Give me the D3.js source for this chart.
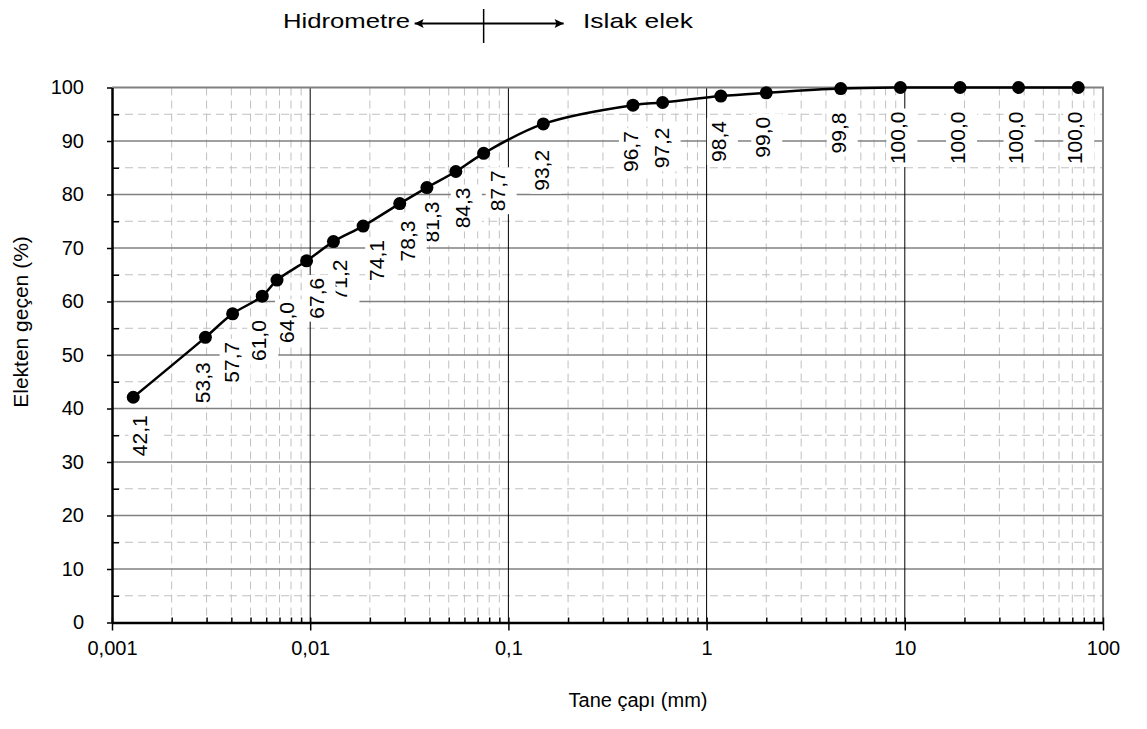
<!DOCTYPE html>
<html>
<head>
<meta charset="utf-8">
<script src="https://cdn.jsdelivr.net/npm/d3@7"></script>
<style>
  body { margin: 0; background: #fff; }
  text { font-family: Arial, "Liberation Sans", sans-serif; fill: #000; }
</style>
</head>
<body>
<svg width="1147" height="729"></svg>
<script>
// tane çapı (mm) ve elekten geçen (%)
const diameters = [0.00128, 0.00296, 0.00406, 0.00573, 0.0068, 0.00959, 0.0131, 0.0185, 0.0283, 0.0388, 0.0543,
                   0.075, 0.15, 0.425, 0.6, 1.18, 2.0, 4.75, 9.5, 19, 37.5, 75];
const passing = [42.1, 53.3, 57.7, 61.0, 64.0, 67.6, 71.2, 74.1, 78.3, 81.3, 84.3,
                 87.7, 93.2, 96.7, 97.2, 98.4, 99.0, 99.8, 100.0, 100.0, 100.0, 100.0];
const xTicks = [0.001, 0.01, 0.1, 1, 10, 100];
const xTickLabels = ["0,001", "0,01", "0,1", "1", "10", "100"];
const yTicks = [0, 10, 20, 30, 40, 50, 60, 70, 80, 90, 100];
const boundary = 0.075; // hidrometre / ıslak elek sınırı

// etiket kaydırmaları (elle yerleştirilmiş etiketler)
const labelNudge = [[14, 18], [5, 25], [6, 28], [4, 24], [17, 22], [17, 17], [14, 18], [21, 14], [15, 17],
                    [12, 14], [14, 16], [21, 17], [6, 26], [5, 26], [6, 25], [5, 25], [4, 24], [5, 24],
                    [5, 24], [5, 24], [4, 24], [4, 24]];

const svg = d3.select("svg");
const pLeft = 112, pRight = 1103, pTop = 87.5, pBottom = 622.5;

const x = d3.scaleLog().domain([0.001, 100]).range([pLeft, pRight]);
const y = d3.scaleLinear().domain([0, 100]).range([pBottom, pTop]);
const fmt = d3.formatLocale({decimal: ",", thousands: ".", grouping: [3], currency: ["", "TL"]}).format(".1f");

// küçük dikey ızgara (2..9 her dekad)
const minorX = [];
xTicks.slice(0, -1).forEach(t => { for (let k = 2; k <= 9; k++) minorX.push(t * k); });
const minorY = d3.range(5, 100, 10);

const grid = svg.append("g");
grid.selectAll("line.mx").data(minorX).join("line")
  .attr("x1", d => x(d)).attr("x2", d => x(d)).attr("y1", pTop).attr("y2", pBottom)
  .attr("stroke", "#c0c0c0").attr("stroke-width", 1).attr("stroke-dasharray", "8,5");
grid.selectAll("line.my").data(minorY).join("line")
  .attr("x1", pLeft).attr("x2", pRight).attr("y1", d => y(d)).attr("y2", d => y(d))
  .attr("stroke", "#c0c0c0").attr("stroke-width", 1).attr("stroke-dasharray", "8,5");
grid.selectAll("line.vy").data(yTicks.slice(1, -1)).join("line")
  .attr("x1", pLeft).attr("x2", pRight).attr("y1", d => y(d)).attr("y2", d => y(d))
  .attr("stroke", "#808080").attr("stroke-width", 1.6);
grid.selectAll("line.vx").data(xTicks.slice(1, -1)).join("line")
  .attr("x1", d => x(d)).attr("x2", d => x(d)).attr("y1", pTop).attr("y2", pBottom)
  .attr("stroke", "#000").attr("stroke-width", 1);

// üst ve sağ çerçeve
svg.append("path")
  .attr("d", `M${pLeft},${pTop}H${pRight}V${pBottom}`)
  .attr("fill", "none").attr("stroke", "#808080").attr("stroke-width", 2);

// eksenler
const yAxis = svg.append("g").attr("transform", `translate(${pLeft},0)`)
  .call(d3.axisLeft(y).tickValues(yTicks).tickSize(5).tickPadding(23).tickSizeOuter(0));
svg.append("g").attr("transform", `translate(${pLeft},0)`)
  .call(d3.axisLeft(y).tickValues(minorY).tickSize(-7).tickFormat("").tickSizeOuter(0))
  .call(g => g.select(".domain").remove());

const xAxis = svg.append("g").attr("transform", `translate(0,${pBottom})`)
  .call(d3.axisBottom(x).tickValues(xTicks).tickSize(8).tickPadding(10).tickSizeOuter(0)
    .tickFormat((d, i) => xTickLabels[i]));
svg.append("g").attr("transform", `translate(0,${pBottom})`)
  .call(d3.axisBottom(x).tickValues(minorX.concat(xTicks)).tickSize(-5).tickFormat("").tickSizeOuter(0))
  .call(g => g.select(".domain").remove());

svg.selectAll(".tick line").attr("stroke", "#000").attr("stroke-width", 1.5);
[yAxis, xAxis].forEach(a => {
  a.select(".domain").attr("stroke", "#000").attr("stroke-width", 2.5);
  a.selectAll("text").attr("font-size", 20).attr("font-family", "Arial, 'Liberation Sans', sans-serif");
});

// eğri
const pts = diameters.map((d, i) => ({d, p: passing[i], nx: labelNudge[i][0], ny: labelNudge[i][1]}));
svg.append("path")
  .datum(pts)
  .attr("fill", "none").attr("stroke", "#000").attr("stroke-width", 2.5)
  .attr("d", d3.line().x(d => x(d.d)).y(d => y(d.p)).curve(d3.curveCatmullRom.alpha(0.5)));

svg.append("g").selectAll("circle").data(pts).join("circle")
  .attr("cx", d => x(d.d)).attr("cy", d => y(d.p)).attr("r", 6.5).attr("fill", "#000");

// veri etiketleri (ters sırada, beyaz zeminli)
const lbl = svg.append("g").selectAll("g").data(pts.slice().reverse()).join("g")
  .attr("transform", d => `translate(${x(d.d) + d.nx},${y(d.p) + d.ny}) rotate(-90)`);
lbl.append("text").attr("text-anchor", "end").attr("font-size", 21).text(d => fmt(d.p));
lbl.each(function() {
  const g = d3.select(this);
  const w = g.select("text").node().getComputedTextLength();
  g.insert("rect", "text").attr("x", -w - 3).attr("y", -19).attr("width", w + 6).attr("height", 31)
    .attr("fill", "#fff");
});

// eksen başlıkları
svg.append("text").attr("x", 638).attr("y", 707).attr("text-anchor", "middle")
  .attr("font-size", 20).text("Tane çapı (mm)");
svg.append("text").attr("transform", "translate(28,322) rotate(-90)").attr("text-anchor", "middle")
  .attr("font-size", 21).text("Elekten geçen (%)");

// üst açıklama: hidrometre <-> ıslak elek
const defs = svg.append("defs");
defs.append("marker").attr("id", "ah").attr("viewBox", "0 0 10 10").attr("refX", 10).attr("refY", 5)
  .attr("markerWidth", 15).attr("markerHeight", 9).attr("markerUnits", "userSpaceOnUse")
  .attr("orient", "auto-start-reverse")
  .append("path").attr("d", "M0,0L10,5L0,10L2,5Z").attr("fill", "#000");
const bx = x(boundary);
svg.append("line").attr("x1", bx - 69).attr("x2", bx + 80).attr("y1", 23.5).attr("y2", 23.5)
  .attr("stroke", "#000").attr("stroke-width", 2)
  .attr("marker-start", "url(#ah)").attr("marker-end", "url(#ah)");
svg.append("line").attr("x1", bx).attr("x2", bx).attr("y1", 9).attr("y2", 43)
  .attr("stroke", "#000").attr("stroke-width", 1.5);
svg.append("text").attr("x", 283).attr("y", 28).attr("font-size", 21)
  .attr("textLength", 127).attr("lengthAdjust", "spacingAndGlyphs").text("Hidrometre");
svg.append("text").attr("x", 583).attr("y", 28).attr("font-size", 21)
  .attr("textLength", 110).attr("lengthAdjust", "spacingAndGlyphs").text("Islak elek");
</script>
</body>
</html>
